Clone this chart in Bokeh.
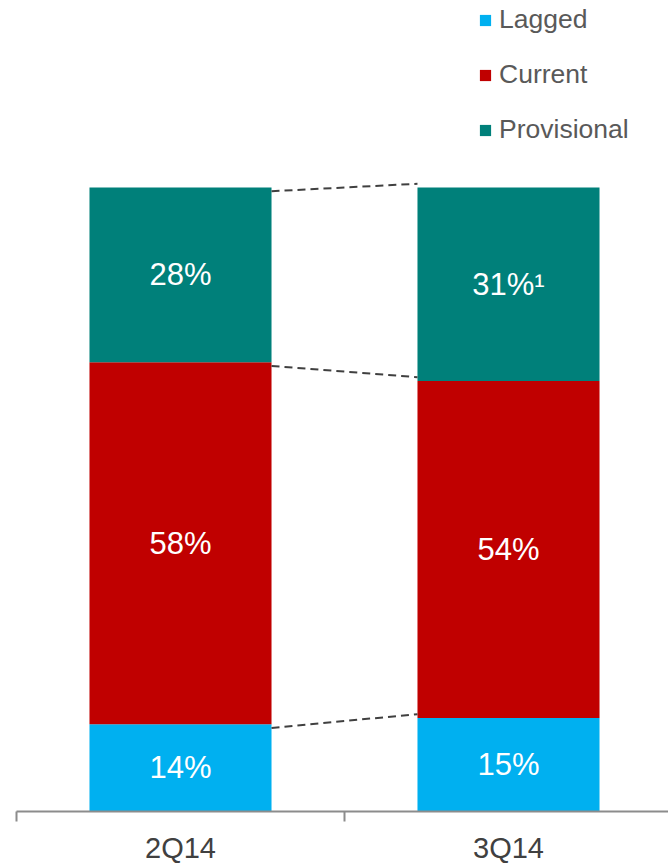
from bokeh.plotting import figure
from bokeh.models import Range1d, LinearAxis, FixedTicker, ColumnDataSource, Legend
from bokeh.core.properties import value
from bokeh.embed import file_html
from bokeh.resources import INLINE

# ---- data ----
quarters = ["2Q14", "3Q14"]
series = ["Lagged", "Current", "Provisional"]
lagged = [14, 15]
current = [58, 54]
provisional = [28, 31]
labels_lagged = ["14%", "15%"]
labels_current = ["58%", "54%"]
labels_provisional = ["28%", "31%\u00b9"]

colors = ["#00B0F0", "#C00000", "#00807A"]
FONT = "Liberation Sans"
BAR_W = 0.555

xs = list(range(len(quarters)))
src = ColumnDataSource(dict(x=xs, Lagged=lagged, Current=current, Provisional=provisional))

p = figure(frame_width=652, frame_height=811, output_backend="svg", toolbar_location=None,
           x_range=Range1d(-0.5, -0.5 + 652 / 328), y_range=Range1d(0, 811 / 6.24),
           x_axis_location=None, y_axis_location=None,
           min_border_left=16, min_border_right=0, min_border_top=0, min_border_bottom=0)
p.outline_line_color = None
p.xgrid.visible = False
p.ygrid.visible = False
p.background_fill_color = "white"

renderers = p.vbar_stack(series, x="x", width=BAR_W, color=colors, source=src, line_color=None)

# connector dashed lines between bar boundaries
cum1 = [lagged[0], lagged[0] + current[0], lagged[0] + current[0] + provisional[0]]
cum2 = [lagged[1], lagged[1] + current[1], lagged[1] + current[1] + provisional[1]]
off = 0.6
p.segment(x0=[xs[0] + BAR_W / 2] * 3, y0=[c - off for c in cum1],
          x1=[xs[1] - BAR_W / 2] * 3, y1=[c + off for c in cum2],
          line_color="#404040", line_width=2, line_dash="8 5")

# value labels
lx, ly, lt = [], [], []
for i in xs:
    b0 = 0
    for vals, labs in ((lagged, labels_lagged), (current, labels_current), (provisional, labels_provisional)):
        lx.append(i)
        ly.append(b0 + vals[i] / 2)
        lt.append(labs[i])
        b0 += vals[i]
p.text(x=lx, y=ly, text=lt, text_color="white", text_font=value(FONT), text_font_size="31px",
       text_align="center", text_baseline="middle")

# axis
ax = LinearAxis(ticker=FixedTicker(ticks=xs, minor_ticks=[-0.5, 0.5, 1.5]),
                major_label_overrides={i: q for i, q in zip(xs, quarters)})
ax.axis_line_color = "#8C8C8C"
ax.axis_line_width = 2
ax.major_tick_line_color = None
ax.major_tick_out = 0
ax.major_tick_in = 0
ax.minor_tick_line_color = "#8C8C8C"
ax.minor_tick_line_width = 2
ax.minor_tick_in = 0
ax.minor_tick_out = 10
ax.major_label_standoff = 10
ax.major_label_text_font = FONT
ax.major_label_text_font_size = "29px"
ax.major_label_text_color = "#404040"
p.add_layout(ax, "below")

legend = Legend(items=[(s, [r]) for s, r in zip(series, renderers)], location=(462, 666),
                orientation="vertical")
legend.padding = 0
legend.margin = 0
legend.spacing = 24
legend.glyph_width = 14
legend.glyph_height = 14
legend.label_standoff = 7
legend.label_text_font = FONT
legend.label_text_font_size = "26.5px"
legend.label_text_color = "#595959"
legend.border_line_color = None
legend.background_fill_alpha = 0
p.add_layout(legend, "center")

open("out.html", "w").write(file_html(p, INLINE))
